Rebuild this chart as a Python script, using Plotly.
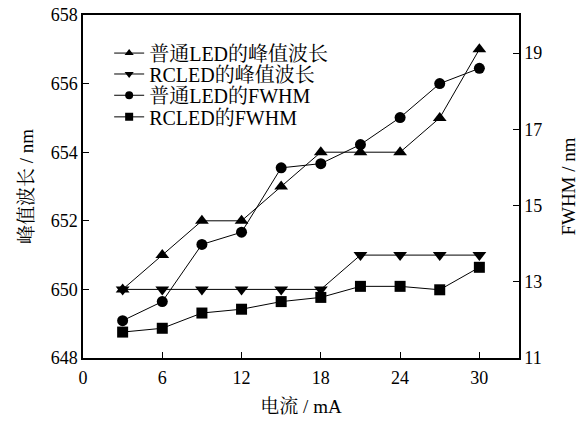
import plotly.graph_objects as go

current = [3, 6, 9, 12, 15, 18, 21, 24, 27, 30]
peak_led = [650, 651, 652, 652, 653, 654, 654, 654, 655, 657]
peak_rcled = [650, 650, 650, 650, 650, 650, 651, 651, 651, 651]
fwhm_led = [11.98, 12.48, 13.98, 14.30, 15.99, 16.10, 16.60, 17.31, 18.20, 18.60]
fwhm_rcled = [11.68, 11.78, 12.18, 12.28, 12.48, 12.59, 12.88, 12.88, 12.79, 13.38]

names = ["普通LED的峰值波长", "RCLED的峰值波长", "普通LED的FWHM", "RCLED的FWHM"]
symbols = ["triangle-up", "triangle-down", "circle", "square"]
plot_sizes = [12, 12, 11, 11]
x_ticks = [0, 6, 12, 18, 24, 30]
y_ticks = [648, 650, 652, 654, 656, 658]
y2_ticks = [11, 13, 15, 17, 19]

SERIF = "Liberation Serif, Noto Serif CJK SC, Noto Sans CJK SC"
line = dict(color="black", width=1)

series = [(peak_led, "y"), (peak_rcled, "y"), (fwhm_led, "y2"), (fwhm_rcled, "y2")]

fig = go.Figure()
for (vals, ax), sym, sz in zip(series, symbols, plot_sizes):
    fig.add_trace(go.Scatter(x=current, y=vals, mode="lines+markers", yaxis=ax, showlegend=False,
                             line=line, marker=dict(symbol=sym, size=sz, color="black")))

legend_names = ["legend", "legend2", "legend3", "legend4"]
for name, sym, lg in zip(names, symbols, legend_names):
    fig.add_trace(go.Scatter(x=[None], y=[None], name=name, mode="lines+markers", legend=lg,
                             line=line, marker=dict(symbol=sym, size=8, color="black")))

row_y = [0.889, 0.828, 0.766, 0.703]
legends = {}
for lg, yy in zip(legend_names, row_y):
    legends[lg] = dict(x=0.06, y=yy, xanchor="left", yanchor="middle", bgcolor="rgba(0,0,0,0)",
                       font=dict(family=SERIF, size=20, color="black"), itemwidth=30)

axis_common = dict(showgrid=False, zeroline=False, showline=True, linecolor="black", linewidth=1.5,
                   ticks="inside", ticklen=6, tickcolor="black", automargin=False,
                   tickfont=dict(family=SERIF, size=18, color="black"))

fig.update_layout(
    width=587, height=422,
    margin=dict(l=83, r=68, t=15, b=64),
    paper_bgcolor="white", plot_bgcolor="white",
    font=dict(family=SERIF, color="black"),
    showlegend=True,
    xaxis=dict(range=[0, 33], tickvals=x_ticks, mirror=True, ticklabelstandoff=3,
               title=dict(text="电流 / mA", font=dict(family=SERIF, size=19), standoff=12),
               **axis_common),
    yaxis=dict(range=[648, 658], tickvals=y_ticks,
               title=dict(text="峰值波长 / nm", font=dict(family=SERIF, size=19), standoff=12),
               **axis_common),
    yaxis2=dict(range=[11, 20], tickvals=y2_ticks, overlaying="y", side="right",
                title=dict(text="FWHM / nm", font=dict(family=SERIF, size=19), standoff=20),
                **axis_common),
    **legends,
)

fig.write_html("out.html")
